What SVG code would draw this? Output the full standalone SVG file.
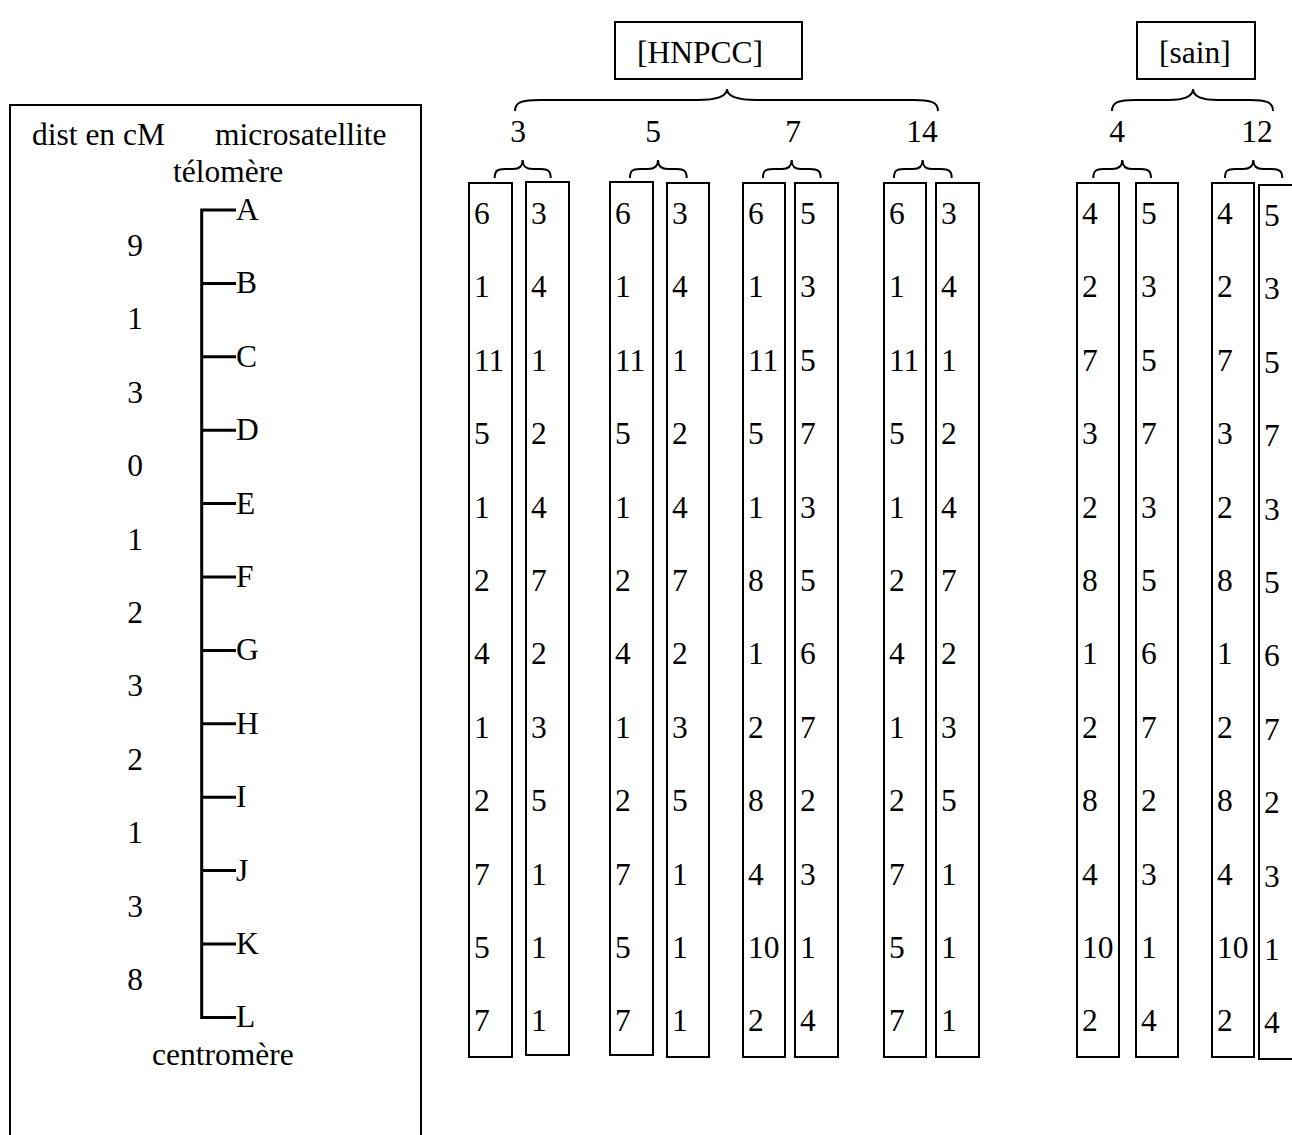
<svg xmlns="http://www.w3.org/2000/svg" width="1292" height="1135" viewBox="0 0 1292 1135">
<style>
text{font-family:"Liberation Serif","Times New Roman",serif;font-size:31.5px;fill:#000}
.box{fill:none;stroke:#000;stroke-width:2}
.br{fill:none;stroke:#000;stroke-width:2}
.chr{fill:none;stroke:#000;stroke-width:3}
.m{text-anchor:middle}
</style>
<rect width="1292" height="1135" fill="#fff"/>
<g id="panel-left">
<path class="box" d="M10,1140 V105 H421 V1140"/>
<text x="32" y="145">dist en cM</text>
<text x="215" y="145">microsatellite</text>
<text x="173" y="182">télomère</text>
<text x="152" y="1065">centromère</text>
</g>
<g id="chromosome">
<path class="chr" d="M236,210 H201.7 V1017.4 H236 M201.7,283.4 H236 M201.7,356.8 H236 M201.7,430.2 H236 M201.7,503.6 H236 M201.7,577 H236 M201.7,650.4 H236 M201.7,723.8 H236 M201.7,797.2 H236 M201.7,870.6 H236 M201.7,944 H236"/>
<text x="236" y="220">A</text>
<text x="236" y="293.4">B</text>
<text x="236" y="366.8">C</text>
<text x="236" y="440.2">D</text>
<text x="236" y="513.6">E</text>
<text x="236" y="587">F</text>
<text x="236" y="660.4">G</text>
<text x="236" y="733.8">H</text>
<text x="236" y="807.2">I</text>
<text x="236" y="880.6">J</text>
<text x="236" y="954">K</text>
<text x="236" y="1027.4">L</text>
</g>
<g id="distances" class="m">
<text class="m" x="135" y="256">9</text>
<text class="m" x="135" y="329.4">1</text>
<text class="m" x="135" y="402.8">3</text>
<text class="m" x="135" y="476.2">0</text>
<text class="m" x="135" y="549.6">1</text>
<text class="m" x="135" y="623">2</text>
<text class="m" x="135" y="696.4">3</text>
<text class="m" x="135" y="769.8">2</text>
<text class="m" x="135" y="843.2">1</text>
<text class="m" x="135" y="916.6">3</text>
<text class="m" x="135" y="990">8</text>
</g>
<g id="label-hnpcc">
<rect class="box" x="615" y="22" width="187" height="57"/>
<text x="637" y="63">[HNPCC]</text>
</g>
<g id="label-sain">
<rect class="box" x="1137" y="22" width="118" height="57"/>
<text x="1159" y="63">[sain]</text>
</g>
<g id="connectors">
<path class="br" d="M515,111 C515,102 522,100 540,100 L697,100 C718,100 727,96 727,89 C727,96 736,100 757,100 L913,100 C931,100 938,102 938,111"/>
<path class="br" d="M1112,111 C1112,102 1119,100 1135,100 L1168,100 C1186,100 1193,96 1193,89 C1193,96 1200,100 1218,100 L1250,100 C1266,100 1273,102 1273,111"/>
<path class="br" d="M494.7,178 C494.7,171 497,169 505,169 L513,169 C520,169 522.7,166 522.7,160 C522.7,166 525,169 533,169 L541,169 C548,169 550.7,171 550.7,178"/>
<path class="br" d="M630,178 C630,171 632,169 640,169 L648,169 C655,169 658,166 658,160 C658,166 661,169 668,169 L677,169 C684,169 686.7,171 686.7,178"/>
<path class="br" d="M763,178 C763,171 765,169 773,169 L782,169 C789,169 791.7,166 791.7,160 C791.7,166 794,169 801,169 L810,169 C818,169 820.7,171 820.7,178"/>
<path class="br" d="M894,178 C894,171 896,169 904,169 L913,169 C920,169 922.7,166 922.7,160 C922.7,166 925,169 932,169 L941,169 C949,169 951.7,171 951.7,178"/>
<path class="br" d="M1093.3,178 C1093.3,171 1096,169 1103,169 L1112,169 C1119,169 1122.3,166 1122.3,160 C1122.3,166 1125,169 1132,169 L1141,169 C1148,169 1151,171 1151,178"/>
<path class="br" d="M1225,178 C1225,171 1227,169 1235,169 L1243,169 C1250,169 1253.3,166 1253.3,160 C1253.3,166 1256,169 1263,169 L1272,169 C1279,169 1282.3,171 1282.3,178"/>
</g>
<g id="group-labels">
<text class="m" x="518" y="142">3</text>
<text class="m" x="653" y="142">5</text>
<text class="m" x="793" y="142">7</text>
<text class="m" x="922" y="142">14</text>
<text class="m" x="1117" y="142">4</text>
<text class="m" x="1257" y="142">12</text>
</g>
<g id="col-3a">
<rect class="box" x="469" y="183" width="43" height="874"/>
<text x="474" y="224">6</text><text x="474" y="297.4">1</text><text x="474" y="370.8">11</text><text x="474" y="444.2">5</text><text x="474" y="517.6">1</text><text x="474" y="591">2</text><text x="474" y="664.4">4</text><text x="474" y="737.8">1</text><text x="474" y="811.2">2</text><text x="474" y="884.6">7</text><text x="474" y="958">5</text><text x="474" y="1031.4">7</text>
</g>
<g id="col-3b">
<rect class="box" x="526" y="182" width="43" height="873"/>
<text x="531" y="224">3</text><text x="531" y="297.4">4</text><text x="531" y="370.8">1</text><text x="531" y="444.2">2</text><text x="531" y="517.6">4</text><text x="531" y="591">7</text><text x="531" y="664.4">2</text><text x="531" y="737.8">3</text><text x="531" y="811.2">5</text><text x="531" y="884.6">1</text><text x="531" y="958">1</text><text x="531" y="1031.4">1</text>
</g>
<g id="col-5a">
<rect class="box" x="610" y="182" width="43" height="873"/>
<text x="615" y="224">6</text><text x="615" y="297.4">1</text><text x="615" y="370.8">11</text><text x="615" y="444.2">5</text><text x="615" y="517.6">1</text><text x="615" y="591">2</text><text x="615" y="664.4">4</text><text x="615" y="737.8">1</text><text x="615" y="811.2">2</text><text x="615" y="884.6">7</text><text x="615" y="958">5</text><text x="615" y="1031.4">7</text>
</g>
<g id="col-5b">
<rect class="box" x="667" y="183" width="42" height="874"/>
<text x="672" y="224">3</text><text x="672" y="297.4">4</text><text x="672" y="370.8">1</text><text x="672" y="444.2">2</text><text x="672" y="517.6">4</text><text x="672" y="591">7</text><text x="672" y="664.4">2</text><text x="672" y="737.8">3</text><text x="672" y="811.2">5</text><text x="672" y="884.6">1</text><text x="672" y="958">1</text><text x="672" y="1031.4">1</text>
</g>
<g id="col-7a">
<rect class="box" x="743" y="183" width="42" height="874"/>
<text x="748" y="224">6</text><text x="748" y="297.4">1</text><text x="748" y="370.8">11</text><text x="748" y="444.2">5</text><text x="748" y="517.6">1</text><text x="748" y="591">8</text><text x="748" y="664.4">1</text><text x="748" y="737.8">2</text><text x="748" y="811.2">8</text><text x="748" y="884.6">4</text><text x="748" y="958">10</text><text x="748" y="1031.4">2</text>
</g>
<g id="col-7b">
<rect class="box" x="795" y="183" width="43" height="874"/>
<text x="800" y="224">5</text><text x="800" y="297.4">3</text><text x="800" y="370.8">5</text><text x="800" y="444.2">7</text><text x="800" y="517.6">3</text><text x="800" y="591">5</text><text x="800" y="664.4">6</text><text x="800" y="737.8">7</text><text x="800" y="811.2">2</text><text x="800" y="884.6">3</text><text x="800" y="958">1</text><text x="800" y="1031.4">4</text>
</g>
<g id="col-14a">
<rect class="box" x="884" y="183" width="42" height="874"/>
<text x="889" y="224">6</text><text x="889" y="297.4">1</text><text x="889" y="370.8">11</text><text x="889" y="444.2">5</text><text x="889" y="517.6">1</text><text x="889" y="591">2</text><text x="889" y="664.4">4</text><text x="889" y="737.8">1</text><text x="889" y="811.2">2</text><text x="889" y="884.6">7</text><text x="889" y="958">5</text><text x="889" y="1031.4">7</text>
</g>
<g id="col-14b">
<rect class="box" x="936" y="183" width="43" height="874"/>
<text x="941" y="224">3</text><text x="941" y="297.4">4</text><text x="941" y="370.8">1</text><text x="941" y="444.2">2</text><text x="941" y="517.6">4</text><text x="941" y="591">7</text><text x="941" y="664.4">2</text><text x="941" y="737.8">3</text><text x="941" y="811.2">5</text><text x="941" y="884.6">1</text><text x="941" y="958">1</text><text x="941" y="1031.4">1</text>
</g>
<g id="col-4a">
<rect class="box" x="1077" y="183" width="42" height="874"/>
<text x="1082" y="224">4</text><text x="1082" y="297.4">2</text><text x="1082" y="370.8">7</text><text x="1082" y="444.2">3</text><text x="1082" y="517.6">2</text><text x="1082" y="591">8</text><text x="1082" y="664.4">1</text><text x="1082" y="737.8">2</text><text x="1082" y="811.2">8</text><text x="1082" y="884.6">4</text><text x="1082" y="958">10</text><text x="1082" y="1031.4">2</text>
</g>
<g id="col-4b">
<rect class="box" x="1136" y="183" width="42" height="874"/>
<text x="1141" y="224">5</text><text x="1141" y="297.4">3</text><text x="1141" y="370.8">5</text><text x="1141" y="444.2">7</text><text x="1141" y="517.6">3</text><text x="1141" y="591">5</text><text x="1141" y="664.4">6</text><text x="1141" y="737.8">7</text><text x="1141" y="811.2">2</text><text x="1141" y="884.6">3</text><text x="1141" y="958">1</text><text x="1141" y="1031.4">4</text>
</g>
<g id="col-12a">
<rect class="box" x="1212" y="183" width="42" height="874"/>
<text x="1217" y="224">4</text><text x="1217" y="297.4">2</text><text x="1217" y="370.8">7</text><text x="1217" y="444.2">3</text><text x="1217" y="517.6">2</text><text x="1217" y="591">8</text><text x="1217" y="664.4">1</text><text x="1217" y="737.8">2</text><text x="1217" y="811.2">8</text><text x="1217" y="884.6">4</text><text x="1217" y="958">10</text><text x="1217" y="1031.4">2</text>
</g>
<g id="col-12b">
<rect class="box" x="1259" y="185" width="60" height="874"/>
<text x="1264" y="226">5</text><text x="1264" y="299.4">3</text><text x="1264" y="372.8">5</text><text x="1264" y="446.2">7</text><text x="1264" y="519.6">3</text><text x="1264" y="593">5</text><text x="1264" y="666.4">6</text><text x="1264" y="739.8">7</text><text x="1264" y="813.2">2</text><text x="1264" y="886.6">3</text><text x="1264" y="960">1</text><text x="1264" y="1033.4">4</text>
</g>
</svg>
